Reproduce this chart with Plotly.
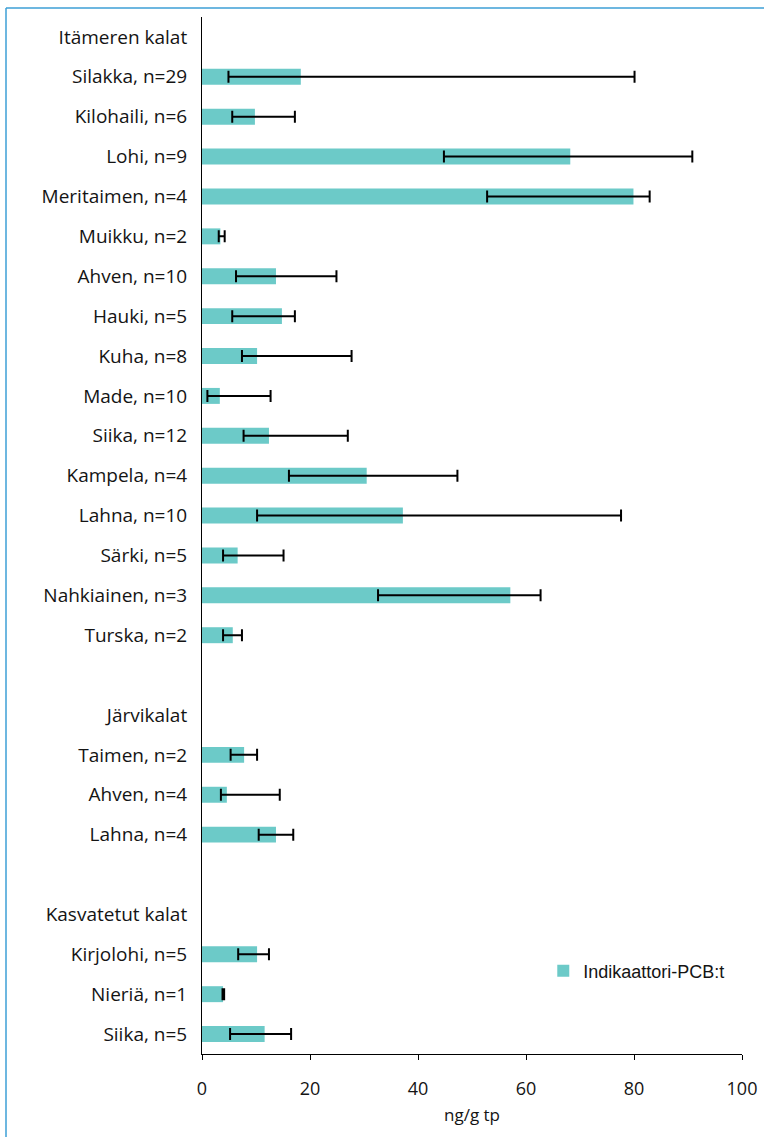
import plotly.graph_objects as go

# Rows from top to bottom; group headers and spacer rows carry no value
labels = [
    "Itämeren kalat",
    "Silakka, n=29", "Kilohaili, n=6", "Lohi, n=9", "Meritaimen, n=4",
    "Muikku, n=2", "Ahven, n=10", "Hauki, n=5", "Kuha, n=8", "Made, n=10",
    "Siika, n=12", "Kampela, n=4", "Lahna, n=10", "Särki, n=5",
    "Nahkiainen, n=3", "Turska, n=2",
    " ",
    "Järvikalat",
    "Taimen, n=2", "Ahven, n=4", "Lahna, n=4",
    "  ",
    "Kasvatetut kalat",
    "Kirjolohi, n=5", "Nieriä, n=1", "Siika, n=5",
]

# Mean concentration (ng/g tp) with min and max of the samples
mean = [
    None,
    18.3, 9.8, 68.2, 79.9,
    3.4, 13.7, 14.8, 10.2, 3.3,
    12.4, 30.5, 37.2, 6.6,
    57.1, 5.7,
    None,
    None,
    7.8, 4.6, 13.7,
    None,
    None,
    10.2, 3.9, 11.6,
]
low = [
    None,
    4.9, 5.6, 44.8, 52.8,
    3.1, 6.3, 5.6, 7.4, 1.0,
    7.7, 16.1, 10.2, 3.9,
    32.6, 3.9,
    None,
    None,
    5.3, 3.5, 10.5,
    None,
    None,
    6.7, 3.8, 5.2,
]
high = [
    None,
    80.1, 17.2, 90.8, 82.9,
    4.2, 24.9, 17.2, 27.7, 12.7,
    27.0, 47.3, 77.6, 15.1,
    62.7, 7.4,
    None,
    None,
    10.2, 14.4, 16.9,
    None,
    None,
    12.4, 4.1, 16.5,
]

x_ticks = [0, 20, 40, 60, 80, 100]

err_plus = [None if m is None else h - m for m, h in zip(mean, high)]
err_minus = [None if m is None else m - l for m, l in zip(mean, low)]

TEAL = "#6ccac8"
TEXT = "#141414"

fig = go.Figure()
fig.add_trace(go.Bar(
    x=mean,
    y=labels,
    orientation="h",
    name="Indikaattori-PCB:t",
    marker=dict(color=TEAL, line=dict(width=0)),
    error_x=dict(
        type="data",
        symmetric=False,
        array=err_plus,
        arrayminus=err_minus,
        color="#000000",
        thickness=2,
        width=6,
    ),
))

W, H = 764, 1137
ML, MR, MT, MB = 202, 22, 17, 83
PW, PH = W - ML - MR, H - MT - MB

# Outer frame: only its top and left edges fall inside the page
fx0 = (6 - ML) / PW
fx1 = (W + 20 - ML) / PW
fy_top = (H - MB - 8) / PH
fy_bot = -(MB + 20) / PH
frame = dict(color="#3d9fd6", width=1.5)
fig.add_shape(type="line", xref="paper", yref="paper",
              x0=fx0, x1=fx1, y0=fy_top, y1=fy_top, line=frame)
fig.add_shape(type="line", xref="paper", yref="paper",
              x0=fx0, x1=fx0, y0=fy_top, y1=fy_bot, line=frame)

fig.update_layout(
    width=W,
    height=H,
    margin=dict(l=ML, r=MR, t=MT, b=MB, autoexpand=False),
    paper_bgcolor="white",
    plot_bgcolor="white",
    bargap=0.6,
    font=dict(family="Open Sans, sans-serif", size=17, color=TEXT),
    showlegend=True,
    legend=dict(
        x=0.632,
        y=0.080,
        xanchor="left",
        yanchor="middle",
        bgcolor="rgba(0,0,0,0)",
        font=dict(family="Liberation Sans Narrow, Liberation Sans, sans-serif",
                  size=18, color=TEXT),
    ),
    xaxis=dict(
        range=[0, 100],
        tickvals=x_ticks,
        ticktext=[str(v) for v in x_ticks],
        tickfont=dict(size=18),
        showgrid=False,
        zeroline=False,
        showline=True,
        linecolor="#000000",
        linewidth=1,
        ticks="outside",
        ticklen=5,
        tickcolor="#000000",
        ticklabelstandoff=13,
        title=dict(text="ng/g tp", standoff=10, font=dict(size=17)),
        fixedrange=True,
    ),
    yaxis=dict(
        type="category",
        categoryorder="array",
        categoryarray=labels,
        autorange="reversed",
        tickfont=dict(size=19),
        showgrid=False,
        zeroline=False,
        showline=True,
        linecolor="#000000",
        linewidth=1,
        ticks="",
        ticklabelstandoff=10,
        fixedrange=True,
    ),
)

fig.write_html("out.html")
